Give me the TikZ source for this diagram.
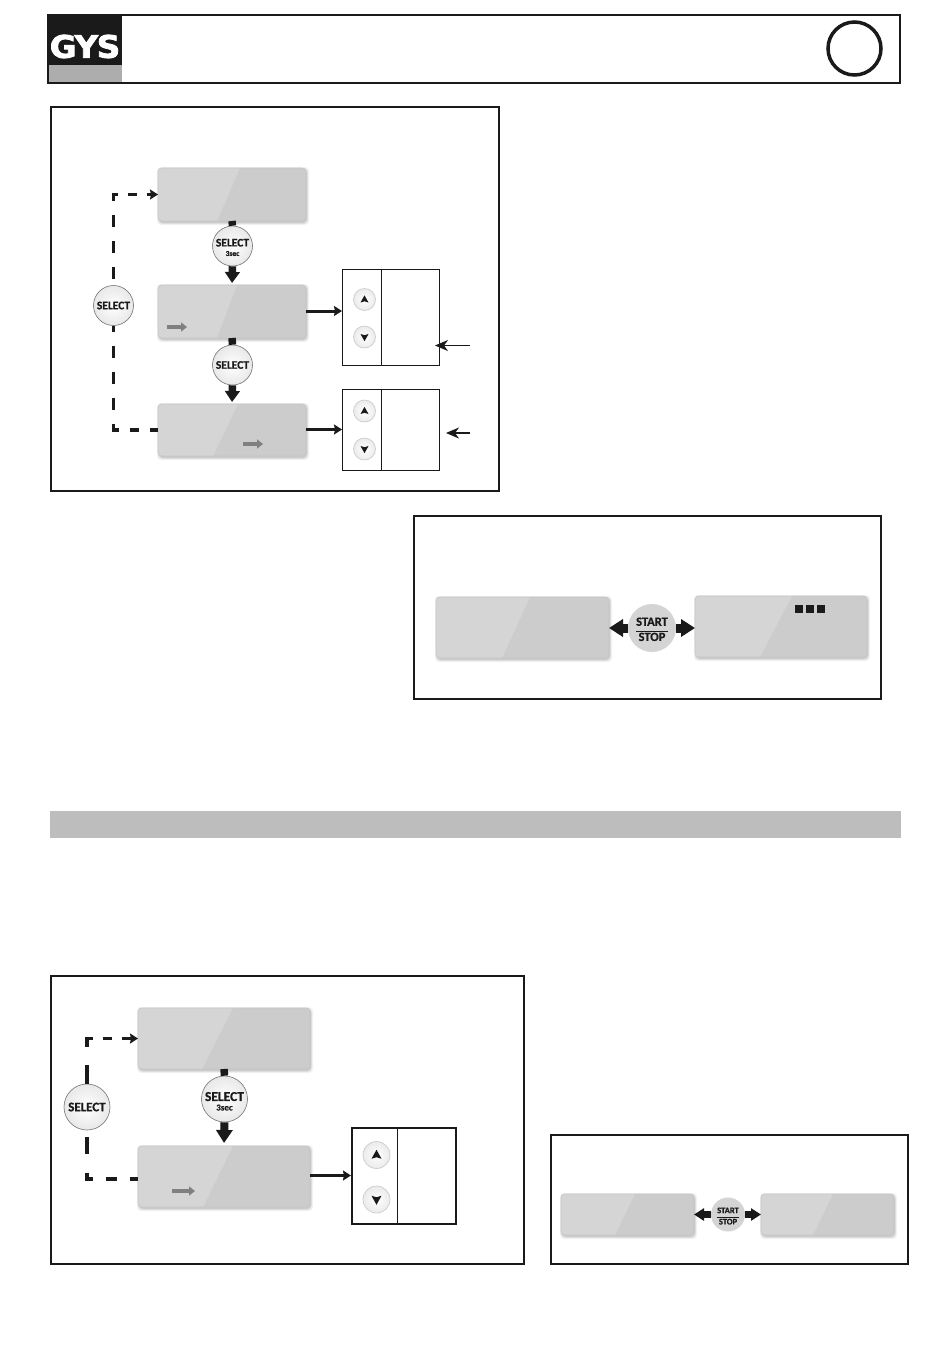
\documentclass[tikz,border=0pt]{standalone}
\usepackage{fontspec}
\setmainfont{Carlito}[BoldFeatures={FakeBold=0.6}]
\newfontfamily\logofont{DejaVu Sans}[BoldFeatures={FakeBold=2.5,LetterSpace=-4}]
\usetikzlibrary{arrows.meta}
\definecolor{ink}{HTML}{1A1A1A}
\definecolor{lcdmain}{HTML}{CCCCCC}
\definecolor{lcdlight}{HTML}{D5D5D5}
\definecolor{lcdedge}{HTML}{C4C4C4}
\definecolor{midgray}{HTML}{808080}
\tikzset{
  frame/.style={draw=ink,line width=2pt,fill=white},
  thinpanel/.style={draw=ink,line width=1pt},
  thinrule/.style={draw=ink,line width=1pt},
  lcd/.style={draw=lcdedge,line width=0.6pt,fill=lcdmain,rounded corners=3.5pt,inner sep=0pt,outer sep=0pt},
  stub/.style={draw=ink,line width=7.5pt},
  fatarrow/.style={draw=ink,line width=8pt,-{Triangle[width=16pt,length=13pt]}},
  startarrow/.style={draw=ink,line width=9pt,-{Triangle[width=17pt,length=14pt]}},
  midfat/.style={draw=ink,line width=7.5pt,-{Triangle[width=14.5pt,length=11pt]}},
  smallfat/.style={draw=ink,line width=6.5pt,-{Triangle[width=12pt,length=10pt]}},
  feed/.style={draw=ink,line width=3pt,-{Stealth[width=10pt,length=8pt,inset=1pt]}},
  dashline/.style={draw=ink,line width=3.2pt},
  dashtip/.style={-{Stealth[width=10pt,length=8pt,inset=1pt]}},
  pointer/.style={draw=ink,line width=1.1pt,-{Stealth[width=11pt,length=13pt,inset=4pt]}},
  grayarrow/.style={draw=midgray,line width=3.3pt,-{Triangle[width=9pt,length=6pt]}},
  btn/.style={circle,draw=black!55,line width=0.6pt,inner color=white,outer color=black!9,inner sep=-6pt,text=ink,font=\bfseries,align=center},
  startstop/.style={circle,fill=black!17,inner sep=-6pt,text=ink,font=\bfseries},
  updown/.style={circle,draw=black!20,line width=0.7pt,inner color=white,outer color=black!8,inner sep=0pt},
}
% #1 name, #2 x0, #3 y0, #4 x1, #5 y1, #6 facet top x, #7 facet bottom x
\newcommand{\lcdpanel}[7]{%
  \foreach \gr/\op in {3/0.05,2/0.07,1/0.09}{%
    \fill[black,opacity=\op,rounded corners=4pt] (#2-\gr+2,#3-\gr+2) rectangle (#4+\gr,#5+\gr+1);}
  \node[lcd,minimum width={(#4-#2)*1pt},minimum height={(#5-#3)*1pt}] (#1) at ({(#2+#4)/2},{(#3+#5)/2}) {};
  \begin{scope}
    \clip[rounded corners=3.5pt] (#2+0.4,#3+0.4) rectangle (#4-0.4,#5-0.4);
    \fill[lcdlight] (#2,#3) -- (#6,#3) -- (#7,#5) -- (#2,#5) -- cycle;
  \end{scope}}
% #1 name, #2 x, #3 y, #4 radius, #5 +1 up / -1 down, #6 triangle half size
\newcommand{\updownbtn}[6]{%
  \node[updown,minimum size={2*#4*1pt}] (#1) at (#2,#3) {};
  \fill[ink] ([shift={(0,{-#5*#6*1.05})}]#1.center) -- ([shift={({#6},{#5*#6*0.75})}]#1.center)
     -- ([shift={(0,{#5*#6*0.45})}]#1.center) -- ([shift={({-#6},{#5*#6*0.75})}]#1.center) -- cycle;}
\begin{document}
\begin{tikzpicture}[x=1pt,y=-1pt]
\useasboundingbox (0,0) rectangle (950,1353);
\fill[white] (0,0) rectangle (950,1353);

% Header
\node[draw=ink,line width=2pt,minimum width=852pt,minimum height=68pt,inner sep=0pt] (header) at (474,49) {};
\fill[ink] (49,15) rectangle (121.5,65);
\fill[black!32] (49,65) rectangle (121.5,82);
\node[inner sep=0pt,text=white,font=\logofont\bfseries\fontsize{31}{31}\selectfont] (logo) at (85,46.5) {\scalebox{1.05}[1]{GYS}};
\node[circle,draw=ink,line width=3.5pt,minimum size=53pt,inner sep=0pt] (lang) at (854.5,48.5) {};

% Frame 1
\node[frame,minimum width=448pt,minimum height=384pt,inner sep=0pt] (f1) at (275,299) {};
\lcdpanel{d1}{158}{168}{306}{221}{240}{217}
\lcdpanel{d2}{158}{285}{306}{338}{237}{217}
\lcdpanel{d3}{158}{404}{306}{456}{238}{213}
\node[thinpanel,minimum width=97pt,minimum height=96pt,inner sep=0pt] (p1) at (391,317) {};
\node[thinpanel,minimum width=97pt,minimum height=81pt,inner sep=0pt] (p2) at (391,429.5) {};
\coordinate (p1t) at (381.5,269); \coordinate (p1b) at (381.5,365);
\coordinate (p2t) at (381.5,389); \coordinate (p2b) at (381.5,470);
\draw[thinrule] (p1t) -- (p1b);
\draw[thinrule] (p2t) -- (p2b);
\updownbtn{u1}{364.5}{299.5}{11}{1}{4}
\updownbtn{v1}{364.5}{337}{11}{-1}{4}
\updownbtn{u2}{364.5}{411}{11}{1}{4}
\updownbtn{v2}{364.5}{449}{11}{-1}{4}
\node[btn,minimum size=40pt] (s1) at (232.5,246) {\begin{tabular}{@{}c@{}}\rule{0pt}{14pt}\fontsize{11.5}{9}\selectfont SELECT\\[-2.5pt]\fontsize{7.5}{7}\selectfont 3sec\end{tabular}};
\node[btn,minimum size=40pt] (s2) at (232.5,365) {\fontsize{11.5}{10}\selectfont SELECT};
\node[btn,minimum size=40pt] (s3) at (113.5,305.5) {\fontsize{11.5}{10}\selectfont SELECT};
\draw[stub] (d1.south) -- (s1.north);
\draw[stub] (d2.south) -- (s2.north);
\draw[midfat,shorten >=2pt] (s1.south) -- (d2.north);
\draw[midfat,shorten >=2pt] (s2.south) -- (d3.north);
\coordinate (c1) at (s3.north |- d1.west);
\coordinate (c2) at (s3.south |- d3.west);
\draw[dashline,dash pattern=on 12pt off 14pt,dash phase=19.5pt] (s3.north) -- (c1);
\draw[dashline,dashtip,dash pattern=on 9pt off 10pt,dash phase=3pt,shorten <=-1.6pt] (c1) -- (d1.west);
\draw[dashline,dash pattern=on 12pt off 14pt,dash phase=6pt] (s3.south) -- (c2);
\draw[dashline,dash pattern=on 9pt off 11pt,dash phase=2pt,shorten <=-1.6pt] (c2) -- (d3.west);
\draw[feed] (d2.east |- 0,311) -- (p1.west |- 0,311);
\draw[feed] (d3.east |- 0,429.5) -- (p2.west);
\coordinate (q1) at (470,345.5);
\coordinate (q1e) at (435,345.5);
\coordinate (q2) at (470,433);
\coordinate (q2e) at (446,433);
\draw[pointer] (q1) -- (q1e);
\draw[pointer] (q2) -- (q2e);
\coordinate (g1a) at (167,327); \coordinate (g1b) at (187,327);
\coordinate (g2a) at (243,444); \coordinate (g2b) at (263,444);
\draw[grayarrow] (g1a) -- (g1b);
\draw[grayarrow] (g2a) -- (g2b);

% Frame 2
\node[frame,minimum width=467pt,minimum height=183pt,inner sep=0pt] (f2) at (647.5,607.5) {};
\lcdpanel{d4}{436}{597}{609}{658}{530}{502}
\lcdpanel{d5}{695}{596}{867}{657}{792}{760}
\fill[ink] (795,605) rectangle (803,613);
\fill[ink] (806,605) rectangle (814,613);
\fill[ink] (817,605) rectangle (825,613);
\node[startstop,minimum size=48pt] (ss1) at (652,628) {\fontsize{12.5}{11}\selectfont\begin{tabular}{@{}c@{}}\rule{0pt}{14pt}START\\[1.5pt]\hline\rule{0pt}{10pt}STOP\end{tabular}};
\draw[startarrow] (ss1.west) -- (d4.east |- ss1.west);
\draw[startarrow] (ss1.east) -- (d5.west |- ss1.east);

% Band
\node[fill=black!26,minimum width=851pt,minimum height=27pt,inner sep=0pt] (band) at (475.5,824.5) {};

% Frame 3
\node[frame,minimum width=473pt,minimum height=288pt,inner sep=0pt] (f3) at (287.5,1120) {};
\lcdpanel{d6}{138}{1008}{310}{1069}{233}{202}
\lcdpanel{d7}{138}{1146}{310}{1207}{233}{203}
\node[draw=ink,line width=2pt,minimum width=104.5pt,minimum height=96pt,inner sep=0pt] (p3) at (404.2,1176) {};
\coordinate (p3t) at (397,1128); \coordinate (p3b) at (397,1224);
\draw[thinrule] (p3t) -- (p3b);
\updownbtn{u3}{376.5}{1155}{13.5}{1}{5}
\updownbtn{v3}{376.5}{1199.5}{13.5}{-1}{5}
\node[btn,minimum size=46pt] (s4) at (224.5,1099) {\begin{tabular}{@{}c@{}}\rule{0pt}{17pt}\fontsize{13.5}{11}\selectfont SELECT\\[-2.5pt]\fontsize{9}{8}\selectfont 3sec\end{tabular}};
\node[btn,minimum size=46pt] (s5) at (87,1107) {\fontsize{13}{12}\selectfont SELECT};
\draw[stub] (d6.south) -- (s4.north);
\draw[fatarrow,shorten >=3pt] (s4.south) -- (d7.north);
\coordinate (c3) at (s5.north |- d6.west);
\coordinate (c4) at (s5.south |- 0,1179);
\draw[dashline,dash pattern=on 19pt off 18pt] (s5.north) -- (c3);
\draw[dashline,dashtip,dash pattern=on 9pt off 10pt,dash phase=1pt,shorten <=-1.6pt] (c3) -- (d6.west);
\draw[dashline,dash pattern=on 17pt off 19pt,dash phase=29.5pt] (s5.south) -- (c4);
\draw[dashline,dash pattern=on 11pt off 13pt,dash phase=3pt,shorten <=-1.6pt] (c4) -- (d7.west |- c4);
\draw[feed] (d7.east |- 0,1175.5) -- (p3.west |- 0,1175.5);
\coordinate (g3a) at (172,1191); \coordinate (g3b) at (195,1191);
\draw[grayarrow] (g3a) -- (g3b);

% Frame 4
\node[frame,minimum width=357pt,minimum height=129pt,inner sep=0pt] (f4) at (729.5,1199.5) {};
\lcdpanel{d8}{561}{1194}{694}{1235}{635}{615}
\lcdpanel{d9}{761}{1194}{894}{1235}{833}{813}
\node[startstop,minimum size=34pt] (ss2) at (728,1214.5) {\fontsize{8.5}{8}\selectfont\begin{tabular}{@{}c@{}}\rule{0pt}{11pt}START\\[1pt]\hline\rule{0pt}{7.5pt}STOP\end{tabular}};
\draw[smallfat] (ss2.west) -- (d8.east |- ss2.west);
\draw[smallfat] (ss2.east) -- (d9.west |- ss2.east);
\end{tikzpicture}
\end{document}
